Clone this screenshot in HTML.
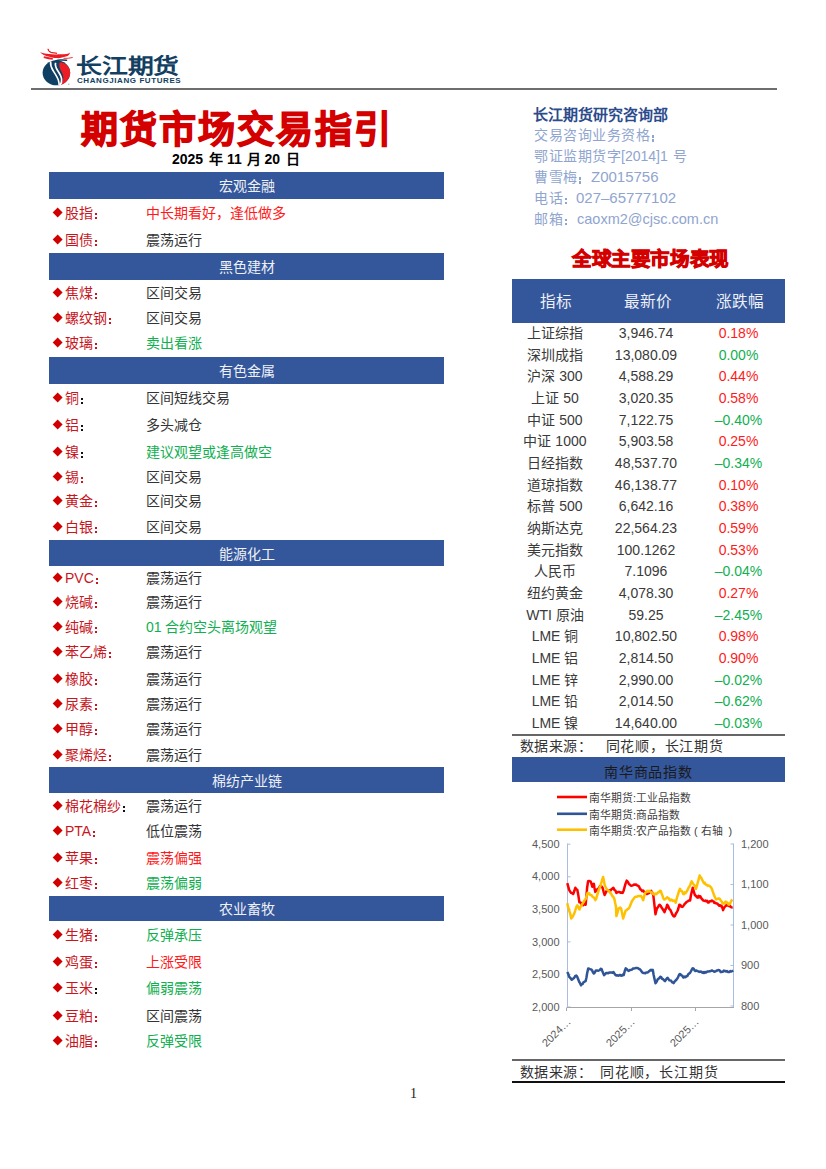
<!DOCTYPE html>
<html lang="zh-CN">
<head>
<meta charset="utf-8">
<style>
*{margin:0;padding:0;box-sizing:border-box}
html,body{width:826px;height:1169px;background:#fff;overflow:hidden}
body{position:relative;font-family:"Liberation Sans",sans-serif;color:#1a1a1a}
.a{position:absolute;white-space:nowrap}
.bar{position:absolute;left:49px;width:395px;height:27px;background:#34569b;color:#eef1f7;font-size:14px;line-height:27px;padding-top:1px;text-align:center}
.r{position:absolute;left:52px;height:20px;line-height:20px;font-size:14px;white-space:nowrap}
.r i{position:absolute;left:1.5px;top:7.3px;width:7.3px;height:7.3px;background:#d10000;transform:rotate(45deg)}
.r b{position:absolute;left:13px;top:1px;font-weight:normal;color:#c8161d}
.r b s{text-decoration:none}
.r b s.k{color:#111}
.r em{display:inline-block;position:relative;width:14px;height:0;font-style:normal}
.r em::before,.r em::after{content:"";position:absolute;left:1.8px;width:2.2px;height:2px;background:currentColor}
.r em::before{bottom:2.9px}
.r em::after{bottom:-1.1px}
.r em.k{color:#111}
.r u{position:absolute;left:94px;top:1px;text-decoration:none;color:#333}
.red{color:#ff1a1a!important}
.grn{color:#10af50!important}
.info{position:absolute;left:534px;font-size:14px;letter-spacing:0.5px;color:#8fa5cf;white-space:nowrap;line-height:20px;width:250px;height:20px}
.ic{display:inline-block;position:relative;width:14.5px;height:0;font-style:normal}
.ic::before,.ic::after{content:"";position:absolute;left:1.6px;width:2.4px;height:2.4px;background:currentColor}
.ic::before{bottom:2.4px}
.ic::after{bottom:-1.6px}
.L{position:absolute;top:0;font-size:15px;letter-spacing:0}
.tb{position:absolute;left:512px;width:273px;font-size:14px;color:#3a3a3a}
.tr{position:absolute;left:0;width:273px;height:21.67px;line-height:21.67px}
.tr span{position:absolute;text-align:center;white-space:nowrap}
.th{position:absolute;top:292px;font-size:15.6px;color:#eef1f7;line-height:20px;white-space:nowrap}
.c1{left:0;width:86px;}
.c2{left:88px;width:92px}
.c3{left:180px;width:93px}
</style>
</head>
<body>
<!-- logo -->
<svg class="a" style="left:38px;top:46px" width="40" height="42" viewBox="0 0 40 42">
  <ellipse cx="18.4" cy="26.8" rx="13.8" ry="12.5" fill="#0f3f62"/>
  <path d="M21.8 16.3 C27 16.3 32.2 20.5 32.2 26.8 C32.2 33 27 38.7 20.5 39.3 C23.5 37 25.2 35 25.3 32 C25.4 28.5 23.4 26 22.1 23 C21 20.3 20.8 18 21.8 16.3 Z" fill="#ee1c25"/>
  <path d="M12.6 15.4 C12.3 18.5 13 21.5 15.2 24.8 C17.4 28.2 19.4 31 20.4 34.3 C21 36.3 21.2 37.8 21.1 39.4" fill="none" stroke="#fff" stroke-width="1.6"/>
  <path d="M17.6 16.8 C17 19 17.6 21.5 19.6 24.5 C21.6 27.5 23.2 30 23.6 33 C23.9 35.5 23.3 37.5 22 39.2" fill="none" stroke="#fff" stroke-width="1.7"/>
  <path d="M16 16.2 C17.5 14.3 20 13.8 23 14 C25 14.1 27 14.3 29.2 14.2" fill="none" stroke="#0f3f62" stroke-width="1.5"/>
  <path d="M2 6.2 C5 7.1 8 7.7 11 8.1 C14 8.5 16.5 8.6 19 8.4 C22 8.2 25 8.6 28.5 7.9 C30 7.6 31.2 7.2 31.9 6.4 C31.8 8.6 30.4 9.8 28 10.6 C25 11.5 22 12.3 19 12.1 C15.5 11.9 12 11 9 10.2 C6.5 9.4 4 8 2 6.2 Z" fill="#ec1c24"/>
  <path d="M10 2.8 C10.2 4.6 11.2 5.8 13 6.4 C15 7 17 6.8 19 7.4" fill="none" stroke="#ee1c25" stroke-width="1.2"/>
  <path d="M5.8 11.2 C9 12 11.5 12.6 14.8 12.9" fill="none" stroke="#ee1c25" stroke-width="1.8"/>
  <path d="M25.5 12.4 C29 12.5 31.5 12.2 34.7 11.5" fill="none" stroke="#ee1c25" stroke-width="0.9"/>
  <circle cx="30.8" cy="38.2" r="0.7" fill="#aab"/>
</svg>
<div class="a" style="left:76px;top:54px;font-size:21px;line-height:24px;font-weight:bold;color:#123f62;transform:scale(1.23,1);transform-origin:0 0;letter-spacing:0px">长江期货</div>
<div class="a" style="left:77px;top:77px;font-size:6.4px;line-height:8px;color:#123f62;letter-spacing:0.47px;font-weight:bold;transform:scaleX(1.25);transform-origin:0 0">CHANGJIANG FUTURES</div>
<div class="a" style="left:31px;top:88px;width:746px;height:2px;background:#6e6e6e"></div>

<!-- title -->
<div class="a" style="left:81px;top:100px;font-size:37px;font-weight:900;color:#d40000;letter-spacing:2px;-webkit-text-stroke:1.3px #d40000">期货市场交易指引</div>
<div class="a" style="left:0;top:149px;font-size:14px;line-height:20px;font-weight:bold;color:#000;width:400px;height:20px"><span class="a" style="left:172px">2025</span><span class="a" style="left:208.5px">年</span><span class="a" style="left:227px">11</span><span class="a" style="left:247px">月</span><span class="a" style="left:264.5px">20</span><span class="a" style="left:286px">日</span></div>

<!-- left column -->
<div class="bar" style="top:172px">宏观金融</div>
<div class="r" style="top:202px"><i></i><b>股指<em></em></b><u class="red">中长期看好，逢低做多</u></div>
<div class="r" style="top:229px"><i></i><b>国债<em></em></b><u>震荡运行</u></div>

<div class="bar" style="top:253px">黑色建材</div>
<div class="r" style="top:282px"><i></i><b>焦煤<em></em></b><u>区间交易</u></div>
<div class="r" style="top:307px"><i></i><b>螺纹钢<em></em></b><u>区间交易</u></div>
<div class="r" style="top:332px"><i></i><b>玻璃<em></em></b><u class="grn">卖出看涨</u></div>

<div class="bar" style="top:357px">有色金属</div>
<div class="r" style="top:387px"><i></i><b>铜<em class="k"></em></b><u>区间短线交易</u></div>
<div class="r" style="top:414px"><i></i><b>铝<em class="k"></em></b><u>多头减仓</u></div>
<div class="r" style="top:441px"><i></i><b>镍<em class="k"></em></b><u class="grn">建议观望或逢高做空</u></div>
<div class="r" style="top:466px"><i></i><b>锡<em></em></b><u>区间交易</u></div>
<div class="r" style="top:490px"><i></i><b>黄金<em></em></b><u>区间交易</u></div>
<div class="r" style="top:516px"><i></i><b>白银<em></em></b><u>区间交易</u></div>

<div class="bar" style="top:540px;height:26px;line-height:26px">能源化工</div>
<div class="r" style="top:567px"><i></i><b>PVC<em></em></b><u>震荡运行</u></div>
<div class="r" style="top:591px"><i></i><b>烧碱<em></em></b><u>震荡运行</u></div>
<div class="r" style="top:616px"><i></i><b>纯碱<em></em></b><u class="grn">01 合约空头离场观望</u></div>
<div class="r" style="top:641px"><i></i><b>苯乙烯<em></em></b><u>震荡运行</u></div>
<div class="r" style="top:668px"><i></i><b>橡胶<em></em></b><u>震荡运行</u></div>
<div class="r" style="top:693px"><i></i><b>尿素<em></em></b><u>震荡运行</u></div>
<div class="r" style="top:718px"><i></i><b>甲醇<em></em></b><u>震荡运行</u></div>
<div class="r" style="top:744px"><i></i><b>聚烯烃<em></em></b><u>震荡运行</u></div>

<div class="bar" style="top:767px;height:26px;line-height:26px">棉纺产业链</div>
<div class="r" style="top:795px"><i></i><b>棉花棉纱<em class="k"></em></b><u>震荡运行</u></div>
<div class="r" style="top:820px"><i></i><b>PTA<em></em></b><u>低位震荡</u></div>
<div class="r" style="top:847px"><i></i><b>苹果<em></em></b><u class="red">震荡偏强</u></div>
<div class="r" style="top:872px"><i></i><b>红枣<em></em></b><u class="grn">震荡偏弱</u></div>

<div class="bar" style="top:896px;height:25px;line-height:25px">农业畜牧</div>
<div class="r" style="top:924px"><i></i><b>生猪<em></em></b><u class="grn">反弹承压</u></div>
<div class="r" style="top:951px"><i></i><b>鸡蛋<em></em></b><u class="red">上涨受限</u></div>
<div class="r" style="top:977px"><i></i><b>玉米<em class="k"></em></b><u class="grn">偏弱震荡</u></div>
<div class="r" style="top:1005px"><i></i><b>豆粕<em></em></b><u>区间震荡</u></div>
<div class="r" style="top:1030px"><i></i><b>油脂<em></em></b><u class="grn">反弹受限</u></div>

<!-- right column info -->
<div class="a" style="left:533px;top:102.5px;font-size:15px;font-weight:bold;color:#2c4b8c">长江期货研究咨询部</div>
<div class="info" style="top:125px">交易咨询业务资格<em class="ic"></em></div>
<div class="info" style="top:146px">鄂证监期货字<span class="L" style="left:87px;font-size:14px">[2014]1</span><span class="a" style="left:139px">号</span></div>
<div class="info" style="top:167px">曹雪梅<em class="ic"></em><span class="L" style="left:57px">Z0015756</span></div>
<div class="info" style="top:187.5px">电话<em class="ic"></em><span class="L" style="left:42px">027–65777102</span></div>
<div class="info" style="top:208.5px">邮箱<em class="ic"></em><span class="L" style="left:43px;font-size:14.5px">caoxm2@cjsc.com.cn</span></div>

<div class="a" style="left:572px;top:242.5px;font-size:19.5px;letter-spacing:-0.4px;font-weight:900;color:#d40000;-webkit-text-stroke:1px #d40000">全球主要市场表现</div>

<!-- table -->
<div class="a" style="left:512px;top:279px;width:273px;height:44px;background:#34569b"></div>
<div class="th" style="left:540px">指标</div><div class="th" style="left:624px">最新价</div><div class="th" style="left:716px">涨跌幅</div>
<div class="tb" style="top:323px">
<div class="tr" style="top:0.0px"><span class="c1">上证综指</span><span class="c2">3,946.74</span><span class="c3 red">0.18%</span></div>
<div class="tr" style="top:21.67px"><span class="c1">深圳成指</span><span class="c2">13,080.09</span><span class="c3 grn">0.00%</span></div>
<div class="tr" style="top:43.34px"><span class="c1">沪深 300</span><span class="c2">4,588.29</span><span class="c3 red">0.44%</span></div>
<div class="tr" style="top:65.01px"><span class="c1">上证 50</span><span class="c2">3,020.35</span><span class="c3 red">0.58%</span></div>
<div class="tr" style="top:86.68px"><span class="c1">中证 500</span><span class="c2">7,122.75</span><span class="c3 grn">–0.40%</span></div>
<div class="tr" style="top:108.35px"><span class="c1">中证 1000</span><span class="c2">5,903.58</span><span class="c3 red">0.25%</span></div>
<div class="tr" style="top:130.02px"><span class="c1">日经指数</span><span class="c2">48,537.70</span><span class="c3 grn">–0.34%</span></div>
<div class="tr" style="top:151.69px"><span class="c1">道琼指数</span><span class="c2">46,138.77</span><span class="c3 red">0.10%</span></div>
<div class="tr" style="top:173.36px"><span class="c1">标普 500</span><span class="c2">6,642.16</span><span class="c3 red">0.38%</span></div>
<div class="tr" style="top:195.03px"><span class="c1">纳斯达克</span><span class="c2">22,564.23</span><span class="c3 red">0.59%</span></div>
<div class="tr" style="top:216.7px"><span class="c1">美元指数</span><span class="c2">100.1262</span><span class="c3 red">0.53%</span></div>
<div class="tr" style="top:238.37px"><span class="c1">人民币</span><span class="c2">7.1096</span><span class="c3 grn">–0.04%</span></div>
<div class="tr" style="top:260.04px"><span class="c1">纽约黄金</span><span class="c2">4,078.30</span><span class="c3 red">0.27%</span></div>
<div class="tr" style="top:281.71px"><span class="c1">WTI 原油</span><span class="c2">59.25</span><span class="c3 grn">–2.45%</span></div>
<div class="tr" style="top:303.38px"><span class="c1">LME 铜</span><span class="c2">10,802.50</span><span class="c3 red">0.98%</span></div>
<div class="tr" style="top:325.05px"><span class="c1">LME 铝</span><span class="c2">2,814.50</span><span class="c3 red">0.90%</span></div>
<div class="tr" style="top:346.72px"><span class="c1">LME 锌</span><span class="c2">2,990.00</span><span class="c3 grn">–0.02%</span></div>
<div class="tr" style="top:368.39px"><span class="c1">LME 铅</span><span class="c2">2,014.50</span><span class="c3 grn">–0.62%</span></div>
<div class="tr" style="top:390.06px"><span class="c1">LME 镍</span><span class="c2">14,640.00</span><span class="c3 grn">–0.03%</span></div>
</div>

<!-- chart -->
<div class="a" style="left:512px;top:734px;width:273px;height:2px;background:#666"></div>
<div class="a" style="left:519.5px;top:735.5px;font-size:14px;letter-spacing:0.5px;line-height:20px;color:#333">数据来源：</div>
<div class="a" style="left:605.5px;top:735.5px;font-size:14px;letter-spacing:0.8px;line-height:20px;color:#333">同花顺，长江期货</div>
<div class="a" style="left:512px;top:757px;width:273px;height:25px;background:#34569b;color:#1a1a1a;font-size:14px;letter-spacing:0.8px;line-height:25px;padding-top:3px;text-align:center">南华商品指数</div>
<div class="a" style="left:589px;top:790px;font-size:10.8px;line-height:16.5px;color:#404040;width:160px;height:50px">南华期货:工业品指数<br>南华期货:商品指数<br>南华期货:农产品指数<span class="a" style="left:105px;top:33px">(</span><span class="a" style="left:112px;top:33px">右轴</span><span class="a" style="left:139.5px;top:33px">)</span></div>
<svg class="a" style="left:512px;top:785px" width="273" height="275" viewBox="512 785 273 275" font-family="Liberation Sans, sans-serif">
<g stroke-width="2.6"><line x1="557" y1="797" x2="587" y2="797" stroke="#ff0000"/><line x1="557" y1="813.8" x2="587" y2="813.8" stroke="#2f5597"/><line x1="557" y1="829.7" x2="587" y2="829.7" stroke="#ffc000"/></g>
<line x1="567.5" y1="843.5" x2="567.5" y2="1007" stroke="#a9bde3" stroke-width="1"/>
<line x1="733.5" y1="843.5" x2="733.5" y2="1007" stroke="#a9bde3" stroke-width="1"/>
<line x1="567.5" y1="844.2" x2="570.5" y2="844.2" stroke="#a9bde3" stroke-width="1"/>
<line x1="567.5" y1="876.8" x2="570.5" y2="876.8" stroke="#a9bde3" stroke-width="1"/>
<line x1="567.5" y1="909.4" x2="570.5" y2="909.4" stroke="#a9bde3" stroke-width="1"/>
<line x1="567.5" y1="941.9" x2="570.5" y2="941.9" stroke="#a9bde3" stroke-width="1"/>
<line x1="567.5" y1="974.5" x2="570.5" y2="974.5" stroke="#a9bde3" stroke-width="1"/>
<line x1="567.5" y1="1007" x2="570.5" y2="1007" stroke="#a9bde3" stroke-width="1"/>
<line x1="730.5" y1="844" x2="733.5" y2="844" stroke="#a9bde3" stroke-width="1"/>
<line x1="730.5" y1="884.5" x2="733.5" y2="884.5" stroke="#a9bde3" stroke-width="1"/>
<line x1="730.5" y1="925" x2="733.5" y2="925" stroke="#a9bde3" stroke-width="1"/>
<line x1="730.5" y1="965.5" x2="733.5" y2="965.5" stroke="#a9bde3" stroke-width="1"/>
<line x1="730.5" y1="1006" x2="733.5" y2="1006" stroke="#a9bde3" stroke-width="1"/>
<line x1="567" y1="1007.5" x2="734" y2="1007.5" stroke="#a6a6a6" stroke-width="1"/>
<line x1="566.5" y1="1007.5" x2="566.5" y2="1011" stroke="#a6a6a6" stroke-width="1"/>
<line x1="631.5" y1="1007.5" x2="631.5" y2="1011" stroke="#a6a6a6" stroke-width="1"/>
<line x1="695.5" y1="1007.5" x2="695.5" y2="1011" stroke="#a6a6a6" stroke-width="1"/>
<polyline points="567.3,972.0 568.2,973.9 569.1,976.6 570.0,977.7 570.8,978.5 571.7,979.7 572.6,979.1 573.4,978.5 574.3,977.6 575.3,976.0 576.3,975.6 577.3,977.0 578.4,979.7 579.3,982.1 580.1,983.2 581.0,985.4 581.8,984.0 582.7,984.0 583.5,982.3 584.5,981.7 585.6,981.2 586.4,977.8 587.1,973.5 588.2,968.4 589.2,968.7 590.2,969.3 591.2,969.4 592.1,970.3 592.9,972.3 593.8,973.5 594.8,972.5 595.9,970.4 596.9,970.4 598.0,970.7 599.0,970.4 599.8,970.1 600.7,968.8 601.5,968.9 602.4,971.3 603.2,973.2 604.1,975.1 605.1,974.1 606.2,973.0 607.2,973.0 608.2,973.3 609.3,972.6 610.3,972.5 611.3,972.6 612.4,972.7 613.4,972.0 614.4,973.5 615.5,975.0 616.5,975.6 617.5,975.3 618.5,975.7 619.5,975.1 620.3,975.0 621.2,975.7 622.0,975.6 622.9,974.5 623.7,975.1 624.7,971.2 625.7,968.4 626.8,969.0 627.8,970.4 628.8,970.9 629.9,970.0 630.9,969.9 631.9,969.6 632.9,968.6 633.9,968.4 634.9,968.2 636.0,967.9 637.0,967.9 638.0,968.2 639.1,969.0 640.1,969.4 641.1,970.7 642.2,972.4 643.2,973.0 644.2,973.1 645.3,973.3 646.3,972.5 647.2,972.5 648.2,972.1 649.1,971.2 650.1,970.4 651.0,969.8 651.9,970.6 652.8,969.9 653.6,974.8 654.4,978.4 655.5,983.2 656.5,981.9 657.6,979.5 658.5,978.7 659.4,978.0 660.3,976.8 661.2,977.1 662.0,978.7 662.9,979.0 664.0,980.2 665.0,981.1 665.9,979.7 666.8,978.4 667.7,977.9 668.6,979.3 669.5,980.4 670.4,980.6 671.2,980.7 672.0,982.3 672.8,982.4 673.6,983.2 674.5,981.6 675.3,980.8 676.2,980.0 677.1,978.8 678.0,977.3 678.9,975.2 679.7,974.1 680.5,974.2 681.4,975.4 682.3,975.7 683.2,977.4 684.0,977.4 684.8,976.6 685.6,977.1 686.4,976.3 687.3,976.1 688.1,974.5 689.0,973.6 690.0,973.0 691.1,971.0 691.9,969.4 692.7,968.3 693.6,968.6 694.5,970.2 695.4,971.0 696.2,970.5 697.0,970.8 697.8,971.2 698.6,971.5 699.5,971.9 700.5,971.6 701.4,971.7 702.3,972.6 703.1,973.0 703.9,972.0 704.7,972.8 705.5,972.0 706.3,972.4 707.1,971.6 707.9,971.6 708.7,971.5 709.5,971.3 710.3,971.2 711.1,970.8 711.9,970.4 712.7,970.8 713.5,971.1 714.3,971.8 715.1,971.5 715.9,971.1 716.7,970.6 717.5,970.6 718.3,969.9 719.1,970.1 719.9,970.7 720.7,972.1 721.5,972.0 722.3,971.8 723.1,971.6 723.9,970.6 724.7,971.0 725.5,971.1 726.3,971.6 727.1,971.1 727.9,972.0 728.7,972.0 729.5,971.9 730.3,971.0 731.1,971.5 732.2,971.1 733.2,970.4" fill="none" stroke="#2f5597" stroke-width="2.5" stroke-linejoin="round"/>
<polyline points="567.3,883.1 568.2,886.4 569.1,889.8 570.2,891.7 571.2,892.9 572.2,893.2 573.2,894.0 574.2,891.3 575.3,887.8 576.3,889.2 577.3,889.8 578.3,895.1 579.4,902.2 580.5,902.4 581.5,904.2 582.3,904.6 583.1,905.3 584.0,904.1 584.8,904.6 585.6,904.8 586.4,896.5 587.1,887.8 588.1,881.1 589.0,880.9 589.8,881.2 590.7,881.6 591.5,883.8 592.3,886.7 593.0,885.0 593.8,883.7 594.5,888.0 595.3,891.9 596.2,890.5 597.0,889.6 597.9,888.8 598.9,888.3 600.0,885.9 601.0,885.7 601.8,886.9 602.6,887.8 603.6,891.8 604.6,895.0 605.5,893.1 606.3,891.4 607.2,890.3 608.2,891.0 609.3,890.2 610.3,890.9 611.3,889.3 612.4,888.7 613.4,887.8 614.4,889.9 615.4,890.5 616.4,892.9 617.4,892.2 618.5,891.9 619.5,891.9 620.5,892.8 621.6,892.5 622.6,892.9 623.7,890.4 624.7,886.7 625.7,883.1 626.7,880.6 627.8,881.9 628.8,883.7 629.8,884.6 630.9,885.7 631.9,885.7 632.9,885.3 634.0,884.5 635.0,884.7 636.0,884.4 637.0,885.4 638.0,885.7 639.0,886.5 640.1,889.0 641.1,889.8 642.1,891.1 643.2,890.6 644.2,891.9 645.2,892.2 646.3,893.9 647.3,894.0 648.3,893.5 649.2,893.0 650.2,891.4 651.2,890.9 652.2,892.4 653.3,895.2 654.4,904.7 655.5,914.3 656.3,910.8 657.1,908.0 658.0,907.4 658.8,905.4 659.7,904.7 660.8,906.1 661.9,908.0 662.8,909.3 663.6,910.7 664.5,912.2 665.4,909.5 666.3,908.0 667.2,904.7 668.2,906.2 669.3,909.0 670.3,909.7 671.4,912.2 672.3,914.4 673.2,915.8 674.1,916.5 675.0,915.9 675.9,913.5 676.8,912.2 677.7,910.5 678.5,908.0 679.4,904.7 680.3,904.9 681.2,906.6 682.1,906.9 683.0,906.4 683.9,905.1 684.8,903.7 685.7,903.0 686.5,901.9 687.4,901.6 688.3,900.9 689.2,900.4 690.1,900.5 690.9,895.5 691.7,892.0 692.7,887.7 693.8,891.6 694.9,895.2 696.0,895.9 697.0,897.3 697.8,897.6 698.6,895.9 699.4,897.2 700.2,896.2 701.2,898.1 702.3,899.4 703.1,900.4 703.9,900.7 704.7,900.9 705.5,900.5 706.3,901.2 707.1,900.7 707.9,902.5 708.7,902.6 709.5,901.5 710.3,901.2 711.1,901.3 711.9,900.5 712.7,901.1 713.5,901.4 714.3,902.9 715.1,902.6 715.9,903.3 716.7,903.4 717.5,903.7 718.3,904.7 719.1,905.6 719.9,905.2 720.7,906.0 721.5,905.8 722.3,907.7 723.1,910.1 723.9,908.0 724.7,906.9 725.8,905.9 726.8,904.7 727.6,905.5 728.4,904.7 729.2,906.1 730.0,905.8 730.9,907.1 731.8,907.4 732.7,907.4" fill="none" stroke="#ff0000" stroke-width="2.5" stroke-linejoin="round"/>
<polyline points="567.3,903.2 568.2,907.4 569.1,910.4 570.2,913.6 571.2,918.6 572.2,917.3 573.2,915.6 574.2,913.7 575.3,910.4 576.3,907.0 577.3,905.3 578.3,906.9 579.4,909.4 580.5,906.9 581.5,905.3 582.5,903.8 583.5,902.2 584.5,900.5 585.6,899.1 586.6,896.0 587.6,892.9 588.5,894.1 589.3,893.4 590.2,895.0 591.1,894.9 591.9,895.7 592.8,897.0 593.6,897.4 594.5,898.3 595.3,900.1 596.2,898.6 597.0,895.9 597.9,892.9 598.8,889.8 599.6,888.1 600.5,885.7 601.4,882.5 602.2,879.6 603.1,877.0 603.9,880.6 604.6,884.7 605.5,886.7 606.3,888.3 607.2,889.8 608.2,890.6 609.3,891.3 610.3,892.9 611.3,894.1 612.3,896.0 613.3,896.9 614.4,899.1 615.1,902.8 615.9,906.3 616.4,916.1 617.5,912.6 618.5,908.4 619.4,908.2 620.2,907.6 621.1,908.4 622.1,912.9 623.1,918.6 624.0,915.6 624.8,913.3 625.7,910.4 626.7,910.2 627.8,908.9 628.8,908.4 629.8,906.5 630.9,903.8 631.9,901.2 632.9,899.7 634.0,898.2 635.0,897.0 636.0,896.7 637.0,896.7 638.0,896.0 639.0,895.9 640.1,896.3 641.1,896.0 642.2,898.0 643.2,900.1 644.2,896.0 645.2,892.9 646.2,892.0 647.3,890.9 648.3,891.5 649.2,890.7 650.2,891.6 651.2,892.0 652.0,892.4 652.8,893.7 653.6,894.4 654.4,894.1 655.2,893.6 656.0,894.3 656.8,893.8 657.6,893.0 658.4,892.0 659.2,891.9 660.0,890.7 660.8,890.9 661.6,893.6 662.4,895.4 663.2,898.0 664.0,899.4 664.8,899.4 665.6,898.7 666.4,898.2 667.2,897.3 668.0,898.2 668.8,898.2 669.6,899.9 670.4,900.5 671.2,899.6 672.0,899.9 672.8,901.0 673.6,900.5 674.7,900.7 675.7,902.6 676.8,898.2 677.8,895.2 678.9,891.3 680.0,888.8 680.8,890.8 681.6,890.9 682.4,891.9 683.2,894.1 684.0,894.2 684.8,892.4 685.6,893.1 686.4,892.0 687.5,890.2 688.5,887.7 689.3,886.7 690.1,885.3 690.9,883.0 691.7,881.3 692.8,883.4 693.8,884.5 694.8,885.8 695.9,888.8 697.0,885.5 698.1,881.3 698.9,878.4 699.7,875.4 700.6,877.4 701.4,877.9 702.3,880.2 703.1,881.7 703.9,883.1 704.7,882.6 705.5,884.5 706.3,884.5 707.1,885.2 707.9,885.9 708.7,885.6 709.5,885.9 710.3,886.6 711.1,887.5 711.9,888.8 713.0,892.2 714.1,895.2 715.2,897.8 716.2,899.4 717.0,899.0 717.8,898.7 718.6,898.5 719.4,898.4 720.2,899.5 721.0,900.9 721.8,901.6 722.6,903.7 723.4,903.2 724.2,903.5 725.0,902.0 725.8,901.6 726.6,902.8 727.4,902.5 728.2,904.3 729.0,904.7 729.8,903.8 730.6,902.4 731.4,900.8 732.2,899.4" fill="none" stroke="#ffc000" stroke-width="2.5" stroke-linejoin="round"/>
<g font-size="11" fill="#595959"><text x="559.5" y="847.8" text-anchor="end">4,500</text><text x="559.5" y="880.4" text-anchor="end">4,000</text><text x="559.5" y="913.0" text-anchor="end">3,500</text><text x="559.5" y="945.5" text-anchor="end">3,000</text><text x="559.5" y="978.1" text-anchor="end">2,500</text><text x="559.5" y="1010.6" text-anchor="end">2,000</text><text x="741" y="847.6">1,200</text><text x="741" y="888.1">1,100</text><text x="741" y="928.6">1,000</text><text x="741" y="969.1">900</text><text x="741" y="1009.6">800</text><text x="571.5" y="1022.5" text-anchor="end" transform="rotate(-45 571.5 1022.5)">2024…</text><text x="635.5" y="1022.5" text-anchor="end" transform="rotate(-45 635.5 1022.5)">2025…</text><text x="699.5" y="1022.5" text-anchor="end" transform="rotate(-45 699.5 1022.5)">2025…</text></g>
</svg>
<div class="a" style="left:512px;top:1059px;width:273px;height:2px;background:#666"></div>
<div class="a" style="left:519.5px;top:1061.5px;font-size:14px;letter-spacing:0.5px;line-height:20px;color:#333">数据来源：</div>
<div class="a" style="left:600px;top:1061.5px;font-size:14px;letter-spacing:0.8px;line-height:20px;color:#333">同花顺，长江期货</div>
<div class="a" style="left:512px;top:1081px;width:273px;height:1.5px;background:#111"></div>
<!-- /chart -->
<!-- page number -->
<div class="a" style="left:410px;top:1086px;font-size:14px;line-height:16px;font-family:'Liberation Serif',serif;color:#222">1</div>
</body>
</html>
